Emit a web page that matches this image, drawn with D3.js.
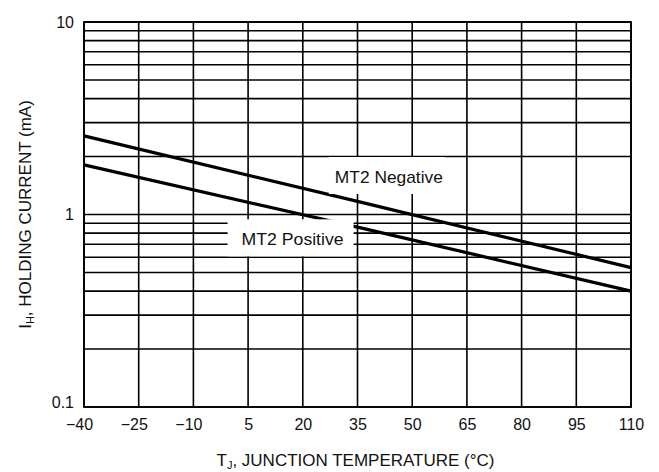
<!DOCTYPE html>
<html lang="en">

<head>
    <meta charset="UTF-8" />
    <script src="https://d3js.org/d3.v7.min.js"></script>
    <title>Holding Current vs Junction Temperature</title>
    <style>
        body { margin: 0; background: #fff; }
        text { font-family: "Liberation Sans", Arial, sans-serif; fill: #111; }
    </style>
</head>

<body>
    <script>
        const width = 659,
            height = 472
        const margin = { top: 22, right: 28, bottom: 65, left: 84 }

        // junction temperature (°C) and holding current (mA)
        const temps = [-40, 35, 110]
        const mt2Negative = [2.56, 1.17, 0.53]
        const mt2Positive = [1.81, 0.86, 0.40]

        const xTicks = [-40, -25, -10, 5, 20, 35, 50, 65, 80, 95, 110]
        const yTicks = [0.1, 1, 10]

        const svg = d3.select('body').append('svg').attr('width', width).attr('height', height)

        const x = d3.scaleLinear()
            .domain([-40, 110])
            .range([margin.left, width - margin.right])
        const y = d3.scaleLog()
            .domain([0.1, 10])
            .range([height - margin.bottom, margin.top])

        // grid: vertical at every tick, horizontal at every log step
        const hLines = []
        for (let d = 0.1; d < 10.001; d *= 10) {
            for (let k = 1; k <= 9; k++) hLines.push(d * k)
        }
        hLines.push(10)

        const grid = svg.append('g').attr('stroke', '#000').attr('stroke-width', 1.6)
        grid.selectAll('.v').data(xTicks).enter()
            .append('line')
            .attr('x1', d => x(d)).attr('x2', d => x(d))
            .attr('y1', y(0.1)).attr('y2', y(10))
        grid.selectAll('.h').data(hLines.filter(v => v <= 10.0001)).enter()
            .append('line')
            .attr('x1', x(-40)).attr('x2', x(110))
            .attr('y1', d => y(d)).attr('y2', d => y(d))

        svg.append('rect')
            .attr('x', x(-40)).attr('y', y(10))
            .attr('width', x(110) - x(-40)).attr('height', y(0.1) - y(10))
            .attr('fill', 'none').attr('stroke', '#000').attr('stroke-width', 1.8)

        // curves
        const line = d3.line().x(d => x(d[0])).y(d => y(d[1]))
        const series = [
            temps.map((t, i) => [t, mt2Negative[i]]),
            temps.map((t, i) => [t, mt2Positive[i]])
        ]
        svg.selectAll('.curve').data(series).enter()
            .append('path')
            .attr('d', line)
            .attr('fill', 'none')
            .attr('stroke', '#000')
            .attr('stroke-width', 3.2)

        // curve labels on white boxes
        const labels = [
            { text: 'MT2 Negative', t: 43.6, v: 1.566, w: 116, len: 108 },
            { text: 'MT2 Positive', t: 17.2, v: 0.743, w: 126, len: 102 }
        ]
        const lab = svg.selectAll('.lab').data(labels).enter().append('g')
            .attr('transform', d => `translate(${x(d.t)},${y(d.v)})`)
        lab.append('rect')
            .attr('x', d => -d.w / 2 - 2).attr('y', -20)
            .attr('width', d => d.w).attr('height', 37)
            .attr('fill', '#fff')
        lab.append('text')
            .attr('text-anchor', 'middle')
            .attr('dy', '0.35em')
            .attr('font-size', 17)
            .attr('textLength', d => d.len)
            .attr('lengthAdjust', 'spacingAndGlyphs')
            .text(d => d.text)

        // axes
        const xAxis = svg.append('g')
            .attr('transform', `translate(0,${y(0.1)})`)
            .call(d3.axisBottom(x).tickValues(xTicks).tickSize(0).tickPadding(12)
                .tickFormat(d => d < 0 ? '\u2212' + Math.abs(d) : d))
        xAxis.select('.domain').remove()
        xAxis.selectAll('text')
            .attr('font-size', 16)
            .attr('font-family', '"Liberation Sans", Arial, sans-serif')
            .attr('fill', '#111')
            .attr('dx', d => d < 0 ? -5 : 0)

        const yAxis = svg.append('g')
            .attr('transform', `translate(${x(-40)},0)`)
            .call(d3.axisLeft(y).tickValues(yTicks).tickSize(0).tickPadding(10)
                .tickFormat(d => d === 0.1 ? '0.1' : d))
        yAxis.select('.domain').remove()
        yAxis.selectAll('text')
            .attr('font-size', 16)
            .attr('font-family', '"Liberation Sans", Arial, sans-serif')
            .attr('fill', '#111')
            .attr('dy', d => d === 0.1 ? '0.05em' : '0.32em')

        // axis titles
        const xTitle = svg.append('text')
            .attr('x', (x(-40) + x(110)) / 2 - 2)
            .attr('y', 466)
            .attr('text-anchor', 'middle')
            .attr('font-size', 17)
        xTitle.append('tspan').text('T')
        xTitle.append('tspan').attr('font-size', 11).attr('dy', 3).text('J')
        xTitle.append('tspan').attr('dy', -3).text(', JUNCTION TEMPERATURE (°C)')

        const yTitle = svg.append('text')
            .attr('transform', `translate(31,${(y(0.1) + y(10)) / 2}) rotate(-90)`)
            .attr('text-anchor', 'middle')
            .attr('font-size', 17)
        yTitle.append('tspan').text('I')
        yTitle.append('tspan').attr('font-size', 11).attr('dy', 3).text('H')
        yTitle.append('tspan').attr('dy', -3).text(', HOLDING CURRENT (mA)')
    </script>
</body>

</html>
